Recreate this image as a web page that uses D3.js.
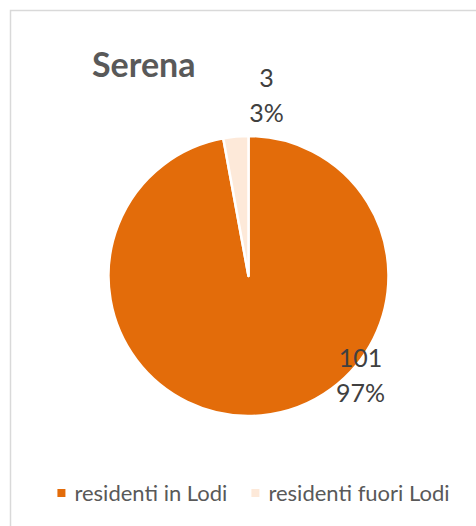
<!DOCTYPE html>
<html>
<head>
<meta charset="utf-8">
<script src="https://cdn.jsdelivr.net/npm/d3@7"></script>
<style>
  html, body { margin: 0; padding: 0; background: #fff; }
  svg { display: block; }
</style>
</head>
<body>
<svg id="chart" width="476" height="526"></svg>
<script>
// ---- data ----
const title = "Serena";
const categories = ["residenti in Lodi", "residenti fuori Lodi"];
const values = [101, 3];
const colors = ["#E36C0A", "#FDE9D9"];

// ---- layout ----
const W = 476, H = 526;
const cx = 248.5, cy = 276, R = 140;
const fontFamily = "Lato, 'Open Sans', sans-serif";
// label offsets relative to pie centre (Excel best-fit placement)
const labelOffsets = [[112, 91], [18, -189]];

const svg = d3.select("#chart");

// chart frame
svg.append("rect")
  .attr("x", 10.5).attr("y", 10.5)
  .attr("width", W).attr("height", H)
  .attr("fill", "#fff")
  .attr("stroke", "#d9d9d9")
  .attr("stroke-width", 1.5);

// title
svg.append("text")
  .attr("x", 92).attr("y", 77)
  .attr("font-family", fontFamily)
  .attr("font-weight", "bold")
  .attr("font-size", 34)
  .attr("fill", "#595959")
  .text(title);

// pie
const data = categories.map((c, i) => ({ cat: c, value: values[i], color: colors[i] }));
const total = d3.sum(values);
const pie = d3.pie().value(d => d.value).sort(null);
const arc = d3.arc().innerRadius(0).outerRadius(R);
const arcs = pie(data);

const g = svg.append("g").attr("transform", `translate(${cx},${cy})`);
g.selectAll("path")
  .data(arcs)
  .join("path")
  .attr("d", arc)
  .attr("fill", d => d.data.color)
  .attr("stroke", "#fff")
  .attr("stroke-width", 2.5)
  .attr("stroke-linejoin", "round");

// data labels
const fmtPct = d3.format(".0%");
const lbl = g.selectAll("g.lbl")
  .data(arcs)
  .join("g")
  .attr("class", "lbl")
  .attr("transform", (d, i) => `translate(${labelOffsets[i][0]},${labelOffsets[i][1]})`);
lbl.append("text")
  .attr("text-anchor", "middle")
  .attr("y", 0)
  .attr("font-family", fontFamily)
  .attr("font-size", 25)
  .attr("fill", "#404040")
  .text(d => d.data.value);
lbl.append("text")
  .attr("text-anchor", "middle")
  .attr("y", 35)
  .attr("font-family", fontFamily)
  .attr("font-size", 25)
  .attr("fill", "#404040")
  .text(d => fmtPct(d.data.value / total));

// legend
const legendY = 501, legendCenter = 253.5;
const sw = 8, swGap = 9, itemGap = 24;
const leg = svg.append("g");
const items = leg.selectAll("g.item").data(data).join("g").attr("class", "item");
items.append("rect")
  .attr("width", sw).attr("height", sw)
  .attr("y", legendY - 12)
  .attr("fill", d => d.color);
items.append("text")
  .attr("x", sw + swGap)
  .attr("y", legendY)
  .attr("font-family", fontFamily)
  .attr("font-size", 22)
  .attr("fill", "#595959")
  .text(d => d.cat);
// position items from measured widths
const widths = [];
items.each(function () {
  widths.push(sw + swGap + d3.select(this).select("text").node().getComputedTextLength());
});
const totalW = d3.sum(widths) + itemGap * (widths.length - 1);
let x0 = legendCenter - totalW / 2;
items.attr("transform", (d, i) => {
  const t = `translate(${x0},0)`;
  x0 += widths[i] + itemGap;
  return t;
});
</script>
</body>
</html>
